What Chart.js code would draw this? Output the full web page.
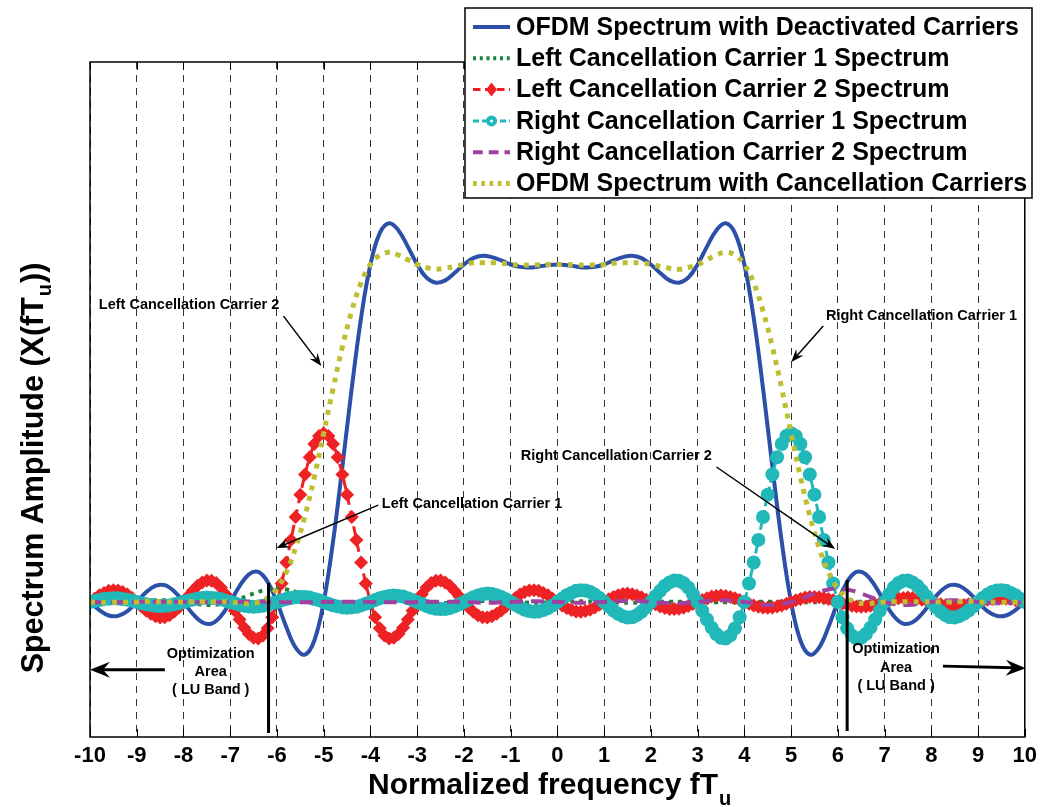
<!DOCTYPE html>
<html>
<head>
<meta charset="utf-8">
<title>OFDM spectrum with cancellation carriers</title>
<script src="https://cdn.jsdelivr.net/npm/chart.js@4.4.1/dist/chart.umd.min.js"></script>
<style>
  html, body { margin: 0; padding: 0; background: #fff; }
  #wrap { width: 1043px; height: 807px; }
</style>
</head>
<body>
<div id="wrap"><canvas id="spectrum" width="1043" height="807"></canvas></div>
<script>
// frequency grids (fTu)
const freqCoarse = [
  -10, -9.8, -9.6, -9.4, -9.2,  -9, -8.8, -8.6, -8.4, -8.2,
  -8, -7.8, -7.6, -7.4, -7.2,   -7, -6.8, -6.6, -6.4, -6.2,
  -6, -5.8, -5.6, -5.4, -5.2,   -5, -4.8, -4.6, -4.4, -4.2,
  -4, -3.8, -3.6, -3.4, -3.2,   -3, -2.8, -2.6, -2.4, -2.2,
  -2, -1.8, -1.6, -1.4, -1.2,   -1, -0.8, -0.6, -0.4, -0.2,
  0, 0.2, 0.4, 0.6, 0.8,        1, 1.2, 1.4, 1.6, 1.8,
  2, 2.2, 2.4, 2.6, 2.8,        3, 3.2, 3.4, 3.6, 3.8,
  4, 4.2, 4.4, 4.6, 4.8,        5, 5.2, 5.4, 5.6, 5.8,
  6, 6.2, 6.4, 6.6, 6.8,        7, 7.2, 7.4, 7.6, 7.8,
  8, 8.2, 8.4, 8.6, 8.8,        9, 9.2, 9.4, 9.6, 9.8,
  10
];
const freqFine = [
  -10, -9.9, -9.8, -9.7, -9.6, -9.5, -9.4, -9.3, -9.2, -9.1,
  -9, -8.9, -8.8, -8.7, -8.6, -8.5, -8.4, -8.3, -8.2, -8.1,
  -8, -7.9, -7.8, -7.7, -7.6, -7.5, -7.4, -7.3, -7.2, -7.1,
  -7, -6.9, -6.8, -6.7, -6.6, -6.5, -6.4, -6.3, -6.2, -6.1,
  -6, -5.9, -5.8, -5.7, -5.6, -5.5, -5.4, -5.3, -5.2, -5.1,
  -5, -4.9, -4.8, -4.7, -4.6, -4.5, -4.4, -4.3, -4.2, -4.1,
  -4, -3.9, -3.8, -3.7, -3.6, -3.5, -3.4, -3.3, -3.2, -3.1,
  -3, -2.9, -2.8, -2.7, -2.6, -2.5, -2.4, -2.3, -2.2, -2.1,
  -2, -1.9, -1.8, -1.7, -1.6, -1.5, -1.4, -1.3, -1.2, -1.1,
  -1, -0.9, -0.8, -0.7, -0.6, -0.5, -0.4, -0.3, -0.2, -0.1,
  0, 0.1, 0.2, 0.3, 0.4, 0.5, 0.6, 0.7, 0.8, 0.9,
  1, 1.1, 1.2, 1.3, 1.4, 1.5, 1.6, 1.7, 1.8, 1.9,
  2, 2.1, 2.2, 2.3, 2.4, 2.5, 2.6, 2.7, 2.8, 2.9,
  3, 3.1, 3.2, 3.3, 3.4, 3.5, 3.6, 3.7, 3.8, 3.9,
  4, 4.1, 4.2, 4.3, 4.4, 4.5, 4.6, 4.7, 4.8, 4.9,
  5, 5.1, 5.2, 5.3, 5.4, 5.5, 5.6, 5.7, 5.8, 5.9,
  6, 6.1, 6.2, 6.3, 6.4, 6.5, 6.6, 6.7, 6.8, 6.9,
  7, 7.1, 7.2, 7.3, 7.4, 7.5, 7.6, 7.7, 7.8, 7.9,
  8, 8.1, 8.2, 8.3, 8.4, 8.5, 8.6, 8.7, 8.8, 8.9,
  9, 9.1, 9.2, 9.3, 9.4, 9.5, 9.6, 9.7, 9.8, 9.9,
  10
];

const seriesNames = [
  'OFDM Spectrum with Deactivated Carriers',
  'Left Cancellation Carrier 1 Spectrum',
  'Left Cancellation Carrier 2 Spectrum',
  'Right Cancellation Carrier 1 Spectrum',
  'Right Cancellation Carrier 2 Spectrum',
  'OFDM Spectrum with Cancellation Carriers'
];

// on freqCoarse
const ofdmDeactivated = [
  0, -0.024, -0.040, -0.041, -0.027,   0, 0.029, 0.048, 0.050, 0.032,
  0, -0.035, -0.060, -0.064, -0.042,   0, 0.047, 0.082, 0.089, 0.060,
  0, -0.074, -0.135, -0.156, -0.114,   0, 0.179, 0.401, 0.633, 0.842,
  1.000, 1.093, 1.122, 1.101, 1.053,   1.000, 0.961, 0.946, 0.953, 0.975,
  1.000, 1.019, 1.026, 1.022, 1.012,   1.000, 0.993, 0.991, 0.994, 0.998,
  1.000, 0.998, 0.994, 0.991, 0.993,   1.000, 1.012, 1.022, 1.026, 1.019,
  1.000, 0.975, 0.953, 0.946, 0.961,   1.000, 1.053, 1.101, 1.122, 1.093,
  1.000, 0.842, 0.633, 0.401, 0.179,   0, -0.114, -0.156, -0.135, -0.074,
  0, 0.060, 0.089, 0.082, 0.047,       0, -0.042, -0.064, -0.060, -0.035,
  0, 0.032, 0.050, 0.048, 0.029,       0, -0.027, -0.041, -0.040, -0.024,
  0
];
const leftCarrier1 = [
  0, -0.002, -0.003, -0.004, -0.002,   0, 0.003, 0.005, 0.005, 0.003,
  0, -0.004, -0.008, -0.009, -0.006,   0, 0.009, 0.020, 0.030, 0.037,
  0.040, 0.037, 0.030, 0.020, 0.009,   0, -0.006, -0.009, -0.008, -0.004,
  0, 0.003, 0.005, 0.005, 0.003,       0, -0.002, -0.004, -0.003, -0.002,
  0, 0.002, 0.003, 0.003, 0.002,       0, -0.001, -0.002, -0.002, -0.001,
  0, 0.001, 0.002, 0.002, 0.001,       0, -0.001, -0.002, -0.002, -0.001,
  0, 0.001, 0.001, 0.001, 0.001,       0, -0.001, -0.001, -0.001, -0.001,
  0, 0.001, 0.001, 0.001, 0.001,       0, -0.001, -0.001, -0.001, -0.001,
  0, 0.001, 0.001, 0.001, 0.001,       0, -0.001, -0.001, -0.001, -0.001,
  0, 0.001, 0.001, 0.001, 0.001,       0, -0.001, -0.001, -0.001, -0.001,
  0
];
const rightCarrier2 = [
  0, -0.001, -0.001, -0.001, -0.001,   0, 0.001, 0.001, 0.001, 0.001,
  0, -0.001, -0.001, -0.001, -0.001,   0, 0.001, 0.001, 0.001, 0.001,
  0, -0.001, -0.001, -0.001, -0.001,   0, 0.001, 0.001, 0.001, 0.001,
  0, -0.001, -0.001, -0.001, -0.001,   0, 0.001, 0.001, 0.001, 0.001,
  0, -0.001, -0.002, -0.002, -0.001,   0, 0.001, 0.002, 0.002, 0.001,
  0, -0.001, -0.002, -0.002, -0.001,   0, 0.002, 0.003, 0.003, 0.002,
  0, -0.002, -0.003, -0.004, -0.002,   0, 0.003, 0.005, 0.005, 0.003,
  0, -0.004, -0.008, -0.009, -0.006,   0, 0.009, 0.020, 0.030, 0.037,
  0.040, 0.037, 0.030, 0.020, 0.009,   0, -0.006, -0.009, -0.008, -0.004,
  0, 0.003, 0.005, 0.005, 0.003,       0, -0.002, -0.004, -0.003, -0.002,
  0
];
const ofdmCancelled = [
  0, -0.001, -0.001, 0.000, -0.001,    0, 0.002, 0.001, 0.000, 0.000,
  0, 0.001, 0.001, 0.001, 0.001,       0, -0.003, -0.005, -0.001, 0.012,
  0.040, 0.088, 0.161, 0.256, 0.371,   0.500, 0.632, 0.756, 0.862, 0.946,
  1.000, 1.028, 1.036, 1.028, 1.014,   1.000, 0.991, 0.986, 0.989, 0.994,
  1.000, 1.005, 1.005, 1.005, 1.004,   1.000, 0.999, 0.998, 0.999, 1.000,
  1.000, 1.000, 0.999, 0.998, 0.999,   1.000, 1.004, 1.005, 1.005, 1.005,
  1.000, 0.994, 0.989, 0.986, 0.991,   1.000, 1.014, 1.028, 1.036, 1.028,
  1.000, 0.946, 0.862, 0.756, 0.632,   0.500, 0.371, 0.256, 0.161, 0.088,
  0.040, 0.012, -0.001, -0.005, -0.003, 0, 0.001, 0.001, 0.001, 0.001,
  0, 0.000, 0.000, 0.001, 0.002,       0, -0.001, 0.000, -0.001, -0.001,
  0
];

// on freqFine
const leftCarrier2 = [
  0, 0.010, 0.020, 0.027, 0.033, 0.035, 0.034, 0.030, 0.022, 0.012,
  0, -0.013, -0.025, -0.035, -0.042, -0.046, -0.045, -0.039, -0.029, -0.016,
  0, 0.017, 0.033, 0.048, 0.058, 0.064, 0.063, 0.056, 0.043, 0.023,
  0, -0.026, -0.052, -0.076, -0.095, -0.106, -0.108, -0.099, -0.078, -0.045,
  0, 0.055, 0.117, 0.184, 0.252, 0.318, 0.378, 0.429, 0.468, 0.492,
  0.500, 0.492, 0.468, 0.429, 0.378, 0.318, 0.252, 0.184, 0.117, 0.055,
  0, -0.045, -0.078, -0.099, -0.108, -0.106, -0.095, -0.076, -0.052, -0.026,
  0, 0.023, 0.043, 0.056, 0.063, 0.064, 0.058, 0.048, 0.033, 0.017,
  0, -0.016, -0.029, -0.039, -0.045, -0.046, -0.042, -0.035, -0.025, -0.013,
  0, 0.012, 0.022, 0.030, 0.034, 0.035, 0.033, 0.027, 0.020, 0.010,
  0, -0.010, -0.018, -0.024, -0.028, -0.029, -0.027, -0.023, -0.016, -0.008,
  0, 0.008, 0.015, 0.020, 0.024, 0.025, 0.023, 0.019, 0.014, 0.007,
  0, -0.007, -0.013, -0.018, -0.021, -0.021, -0.020, -0.017, -0.012, -0.006,
  0, 0.006, 0.011, 0.016, 0.018, 0.019, 0.018, 0.015, 0.011, 0.006,
  0, -0.005, -0.010, -0.014, -0.016, -0.017, -0.016, -0.013, -0.010, -0.005,
  0, 0.005, 0.009, 0.013, 0.015, 0.015, 0.014, 0.012, 0.009, 0.005,
  0, -0.004, -0.008, -0.011, -0.013, -0.014, -0.013, -0.011, -0.008, -0.004,
  0, 0.004, 0.008, 0.011, 0.012, 0.013, 0.012, 0.010, 0.007, 0.004,
  0, -0.004, -0.007, -0.010, -0.011, -0.012, -0.011, -0.009, -0.007, -0.004,
  0, 0.004, 0.007, 0.009, 0.011, 0.011, 0.010, 0.009, 0.006, 0.003,
  0
];
const rightCarrier1 = [
  0, 0.003, 0.006, 0.009, 0.010, 0.011, 0.011, 0.009, 0.007, 0.004,
  0, -0.004, -0.007, -0.009, -0.011, -0.012, -0.011, -0.010, -0.007, -0.004,
  0, 0.004, 0.007, 0.010, 0.012, 0.013, 0.012, 0.011, 0.008, 0.004,
  0, -0.004, -0.008, -0.011, -0.013, -0.014, -0.013, -0.011, -0.008, -0.004,
  0, 0.005, 0.009, 0.012, 0.014, 0.015, 0.015, 0.013, 0.009, 0.005,
  0, -0.005, -0.010, -0.013, -0.016, -0.017, -0.016, -0.014, -0.010, -0.005,
  0, 0.006, 0.011, 0.015, 0.018, 0.019, 0.018, 0.016, 0.011, 0.006,
  0, -0.006, -0.012, -0.017, -0.020, -0.021, -0.021, -0.018, -0.013, -0.007,
  0, 0.007, 0.014, 0.019, 0.023, 0.025, 0.024, 0.020, 0.015, 0.008,
  0, -0.008, -0.016, -0.023, -0.027, -0.029, -0.028, -0.024, -0.018, -0.010,
  0, 0.010, 0.020, 0.027, 0.033, 0.035, 0.034, 0.030, 0.022, 0.012,
  0, -0.013, -0.025, -0.035, -0.042, -0.046, -0.045, -0.039, -0.029, -0.016,
  0, 0.017, 0.033, 0.048, 0.058, 0.064, 0.063, 0.056, 0.043, 0.023,
  0, -0.026, -0.052, -0.076, -0.095, -0.106, -0.108, -0.099, -0.078, -0.045,
  0, 0.055, 0.117, 0.184, 0.252, 0.318, 0.378, 0.429, 0.468, 0.492,
  0.500, 0.492, 0.468, 0.429, 0.378, 0.318, 0.252, 0.184, 0.117, 0.055,
  0, -0.045, -0.078, -0.099, -0.108, -0.106, -0.095, -0.076, -0.052, -0.026,
  0, 0.023, 0.043, 0.056, 0.063, 0.064, 0.058, 0.048, 0.033, 0.017,
  0, -0.016, -0.029, -0.039, -0.045, -0.046, -0.042, -0.035, -0.025, -0.013,
  0, 0.012, 0.022, 0.030, 0.034, 0.035, 0.033, 0.027, 0.020, 0.010,
  0
];

const FONT = '"Liberation Sans", Arial, Helvetica, sans-serif';

function pts(xs, ys) {
  return xs.map((x, i) => ({ x: x, y: ys[i] }));
}

// line looks, also used by the legend
const looks = [
  { color: '#2c50a8', width: 4, dash: [], marker: null },
  { color: '#1e823c', width: 4, dash: [4, 5], marker: null },
  { color: '#ee2224', width: 3, dash: [10, 6], marker: 'rectRot' },
  { color: '#20b8b8', width: 3, dash: [8, 4], marker: 'circle' },
  { color: '#a040a0', width: 4, dash: [13, 8], marker: null },
  { color: '#bebe32', width: 5, dash: [5, 6], marker: null }
];

function makeSet(i, xs, ys, extra) {
  const lk = looks[i];
  return Object.assign({
    label: seriesNames[i],
    data: pts(xs, ys),
    borderColor: lk.color,
    backgroundColor: lk.color,
    borderWidth: lk.width,
    borderDash: lk.dash,
    pointRadius: 0,
    tension: 0.4,
    fill: false,
    order: 6 - i
  }, extra || {});
}

function arrow(ctx, x1, y1, x2, y2, lw, len, half) {
  const a = Math.atan2(y2 - y1, x2 - x1);
  ctx.save();
  ctx.strokeStyle = '#000';
  ctx.fillStyle = '#000';
  ctx.lineWidth = lw;
  ctx.beginPath();
  ctx.moveTo(x1, y1);
  ctx.lineTo(x2 - Math.cos(a) * len * 0.6, y2 - Math.sin(a) * len * 0.6);
  ctx.stroke();
  ctx.translate(x2, y2);
  ctx.rotate(a);
  ctx.beginPath();
  ctx.moveTo(0, 0);
  ctx.lineTo(-len, -half);
  ctx.lineTo(-len * 0.65, 0);
  ctx.lineTo(-len, half);
  ctx.closePath();
  ctx.fill();
  ctx.restore();
}

const decorations = {
  id: 'decorations',
  afterDatasetsDraw(chart) {
    const { ctx, chartArea: area, scales } = chart;
    const X = v => scales.x.getPixelForValue(v);
    const Y = v => scales.y.getPixelForValue(v);

    // frame and inward ticks
    ctx.save();
    ctx.strokeStyle = '#000';
    ctx.lineWidth = 1.5;
    ctx.strokeRect(area.left, area.top, area.right - area.left, area.bottom - area.top);
    ctx.lineWidth = 1;
    ctx.beginPath();
    scales.x.ticks.forEach(t => {
      const px = Math.round(X(t.value)) + 0.5;
      ctx.moveTo(px, area.bottom); ctx.lineTo(px, area.bottom - 8);
      ctx.moveTo(px, area.top); ctx.lineTo(px, area.top + 8);
    });
    ctx.stroke();

    // LU band borders
    ctx.lineWidth = 3;
    ctx.beginPath();
    ctx.moveTo(X(-6.18), Y(0.056)); ctx.lineTo(X(-6.18), Y(-0.388));
    ctx.moveTo(X(6.2), Y(0.065)); ctx.lineTo(X(6.2), Y(-0.382));
    ctx.stroke();

    // labels
    ctx.fillStyle = '#000';
    ctx.font = 'bold 14.5px ' + FONT;
    ctx.textAlign = 'center';
    ctx.textBaseline = 'middle';
    ctx.fillText('Left Cancellation Carrier 2', X(-7.88), Y(0.88));
    ctx.fillText('Right Cancellation Carrier 1', X(7.79), Y(0.847));
    ctx.fillText('Right Cancellation Carrier 2', X(1.26), Y(0.433));
    ctx.fillText('Left Cancellation Carrier 1', X(-1.825), Y(0.29));
    ['Optimization', 'Area', '( LU Band )'].forEach((s, i) => {
      ctx.fillText(s, X(-7.417), Y(-0.154 - i * 0.0535));
      ctx.fillText(s, X(7.246), Y(-0.139 - i * 0.0555));
    });
    ctx.restore();

    arrow(ctx, X(-5.86), Y(0.847), X(-5.05), Y(0.699), 1.5, 13, 5);
    arrow(ctx, X(5.688), Y(0.818), X(5.005), Y(0.711), 1.5, 13, 5);
    arrow(ctx, X(3.404), Y(0.40), X(5.944), Y(0.157), 1.5, 13, 5);
    arrow(ctx, X(-3.832), Y(0.287), X(-6.009), Y(0.16), 1.5, 13, 5);
    arrow(ctx, X(-8.399), Y(-0.201), X(-10), Y(-0.201), 3, 20, 8);
    arrow(ctx, X(8.25), Y(-0.19), X(10.02), Y(-0.196), 3, 20, 8);
  },
  afterDraw(chart) {
    const { ctx } = chart;
    ctx.save();
    ctx.fillStyle = '#000';
    ctx.textBaseline = 'alphabetic';
    ctx.textAlign = 'left';

    // x title
    const xMain = 'Normalized frequency fT';
    ctx.font = 'bold 30px ' + FONT;
    const xw = ctx.measureText(xMain).width;
    ctx.fillText(xMain, 368, 794);
    ctx.font = 'bold 20px ' + FONT;
    ctx.fillText('u', 368 + xw + 1, 805);

    // y title
    const yA = 'Spectrum Amplitude (X(fT', yB = 'u', yC = '))';
    ctx.font = 'bold 30.5px ' + FONT;
    const wa = ctx.measureText(yA).width, wc = ctx.measureText(yC).width;
    ctx.font = 'bold 20px ' + FONT;
    const wb = ctx.measureText(yB).width;
    ctx.translate(43, 468);
    ctx.rotate(-Math.PI / 2);
    const start = -(wa + wb + wc + 2) / 2;
    ctx.font = 'bold 30.5px ' + FONT;
    ctx.fillText(yA, start, 0);
    ctx.fillText(yC, start + wa + wb + 2, 0);
    ctx.font = 'bold 20px ' + FONT;
    ctx.fillText(yB, start + wa + 1, 8);
    ctx.restore();

    // legend
    const bx = 465, by = 8, bw = 567, bh = 190;
    ctx.save();
    ctx.fillStyle = '#fff';
    ctx.fillRect(bx, by, bw, bh);
    ctx.strokeStyle = '#000';
    ctx.lineWidth = 1.5;
    ctx.strokeRect(bx, by, bw, bh);
    ctx.font = 'bold 25px ' + FONT;
    ctx.textBaseline = 'middle';
    seriesNames.forEach((name, i) => {
      const lk = looks[i];
      const cy = by + 19 + i * 31.3;
      ctx.strokeStyle = lk.color;
      ctx.fillStyle = lk.color;
      ctx.lineWidth = lk.width;
      ctx.setLineDash(lk.dash.length ? lk.dash.map(d => d * 0.75) : []);
      ctx.beginPath();
      ctx.moveTo(473, cy); ctx.lineTo(510, cy);
      ctx.stroke();
      ctx.setLineDash([]);
      if (lk.marker === 'rectRot') {
        ctx.beginPath();
        ctx.moveTo(491.5, cy - 7); ctx.lineTo(497, cy); ctx.lineTo(491.5, cy + 7); ctx.lineTo(486, cy);
        ctx.closePath(); ctx.fill();
      } else if (lk.marker === 'circle') {
        ctx.beginPath(); ctx.arc(491.5, cy, 5.5, 0, Math.PI * 2); ctx.fill();
        ctx.fillStyle = '#fff';
        ctx.beginPath(); ctx.arc(491.5, cy, 1.5, 0, Math.PI * 2); ctx.fill();
      }
      ctx.fillStyle = '#000';
      ctx.fillText(name, 516, cy + 1);
    });
    ctx.restore();
  }
};

const ctx = document.getElementById('spectrum').getContext('2d');
new Chart(ctx, {
  type: 'line',
  data: {
    datasets: [
      makeSet(0, freqCoarse, ofdmDeactivated),
      makeSet(1, freqCoarse, leftCarrier1),
      makeSet(2, freqFine, leftCarrier2, {
        pointRadius: 7, pointStyle: 'rectRot', pointBorderWidth: 0, tension: 0.3
      }),
      makeSet(3, freqFine, rightCarrier1, {
        pointRadius: 7, pointStyle: 'circle', pointBorderWidth: 0, tension: 0.3
      }),
      makeSet(4, freqCoarse, rightCarrier2),
      makeSet(5, freqCoarse, ofdmCancelled)
    ]
  },
  options: {
    responsive: false,
    animation: false,
    layout: { padding: { left: 90, right: 16, top: 62, bottom: 0 } },
    plugins: {
      legend: { display: false },
      tooltip: { enabled: false }
    },
    scales: {
      x: {
        type: 'linear',
        min: -10,
        max: 10,
        afterFit: s => { s.height = 70; },
        ticks: {
          stepSize: 1,
          autoSkip: false,
          maxRotation: 0,
          padding: 6,
          color: '#000',
          font: { family: FONT, size: 22, weight: 'bold' }
        },
        grid: { color: '#333', lineWidth: 1, drawTicks: false },
        border: { display: false, dash: [7, 6] }
      },
      y: {
        type: 'linear',
        min: -0.4,
        max: 1.6,
        display: false
      }
    }
  },
  plugins: [decorations]
});
</script>
</body>
</html>
